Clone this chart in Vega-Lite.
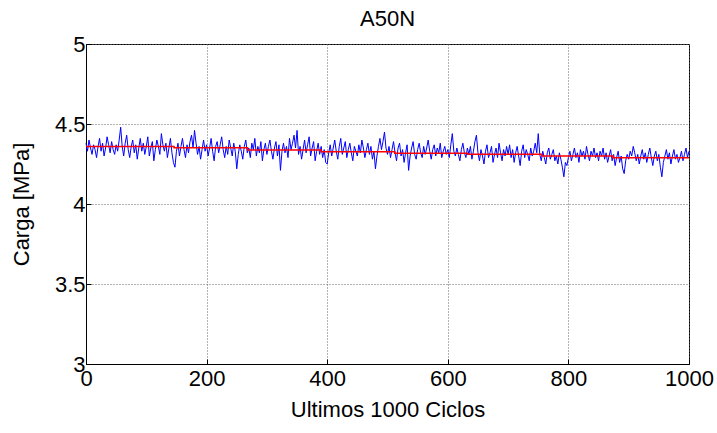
{
"$schema":"https://vega.github.io/schema/vega-lite/v6.json",
"autosize":{"type":"none"},
"padding":{"left":86,"top":44,"right":28,"bottom":69},
"width":603,"height":320,
"background":"white",
"title":{"text":"A50N","fontSize":22,"font":"Liberation Sans","fontWeight":"normal","color":"black","offset":2},
"config":{"view":{"stroke":"black","strokeWidth":1},"axis":{"labelFont":"Liberation Sans","labelFontSize":22,"labelColor":"black","titleFont":"Liberation Sans","titleFontSize":22,"titleFontWeight":"normal","titleColor":"black","domainColor":"black","tickColor":"black","tickSize":-5,"labelFlush":false,"grid":true,"gridColor":"#666666","gridDash":[1,2],"gridWidth":1,"gridOpacity":1}},
"datasets":{
"blue":[
{"x":0,"y":4.38},{"x":2.5,"y":4.33},{"x":5,"y":4.40},{"x":7.5,"y":4.35},{"x":10,"y":4.31},{"x":12.5,"y":4.37},{"x":15,"y":4.34},{"x":17.5,"y":4.29},{"x":20,"y":4.36},{"x":22.5,"y":4.41},{"x":25,"y":4.33},{"x":27.5,"y":4.38},{"x":30,"y":4.30},{"x":32.5,"y":4.35},{"x":35,"y":4.42},{"x":37.5,"y":4.37},{"x":40,"y":4.32},{"x":42.5,"y":4.39},{"x":45,"y":4.34},{"x":47.5,"y":4.31},
{"x":50,"y":4.37},{"x":52.5,"y":4.33},{"x":55,"y":4.40},{"x":57.5,"y":4.48},{"x":60,"y":4.36},{"x":62.5,"y":4.30},{"x":65,"y":4.38},{"x":67.5,"y":4.43},{"x":70,"y":4.34},{"x":72.5,"y":4.29},{"x":75,"y":4.36},{"x":77.5,"y":4.40},{"x":80,"y":4.32},{"x":82.5,"y":4.37},{"x":85,"y":4.28},{"x":87.5,"y":4.35},{"x":90,"y":4.41},{"x":92.5,"y":4.33},{"x":95,"y":4.38},{"x":97.5,"y":4.31},
{"x":100,"y":4.36},{"x":102.5,"y":4.42},{"x":105,"y":4.30},{"x":107.5,"y":4.35},{"x":110,"y":4.39},{"x":112.5,"y":4.27},{"x":115,"y":4.34},{"x":117.5,"y":4.40},{"x":120,"y":4.36},{"x":122.5,"y":4.31},{"x":125,"y":4.44},{"x":127.5,"y":4.37},{"x":130,"y":4.33},{"x":132.5,"y":4.38},{"x":135,"y":4.29},{"x":137.5,"y":4.35},{"x":140,"y":4.41},{"x":142.5,"y":4.32},{"x":145,"y":4.26},{"x":147.5,"y":4.23},
{"x":150,"y":4.33},{"x":152.5,"y":4.38},{"x":155,"y":4.30},{"x":157.5,"y":4.36},{"x":160,"y":4.41},{"x":162.5,"y":4.34},{"x":165,"y":4.29},{"x":167.5,"y":4.37},{"x":170,"y":4.32},{"x":172.5,"y":4.39},{"x":175,"y":4.43},{"x":177.5,"y":4.35},{"x":180,"y":4.46},{"x":182.5,"y":4.38},{"x":185,"y":4.31},{"x":187.5,"y":4.36},{"x":190,"y":4.28},{"x":192.5,"y":4.34},{"x":195,"y":4.40},{"x":197.5,"y":4.33},
{"x":200,"y":4.37},{"x":202.5,"y":4.30},{"x":205,"y":4.35},{"x":207.5,"y":4.41},{"x":210,"y":4.33},{"x":212.5,"y":4.27},{"x":215,"y":4.36},{"x":217.5,"y":4.39},{"x":220,"y":4.32},{"x":222.5,"y":4.37},{"x":225,"y":4.42},{"x":227.5,"y":4.34},{"x":230,"y":4.29},{"x":232.5,"y":4.36},{"x":235,"y":4.31},{"x":237.5,"y":4.40},{"x":240,"y":4.35},{"x":242.5,"y":4.30},{"x":245,"y":4.38},{"x":247.5,"y":4.33},
{"x":250,"y":4.22},{"x":252.5,"y":4.31},{"x":255,"y":4.37},{"x":257.5,"y":4.33},{"x":260,"y":4.28},{"x":262.5,"y":4.36},{"x":265,"y":4.40},{"x":267.5,"y":4.32},{"x":270,"y":4.35},{"x":272.5,"y":4.29},{"x":275,"y":4.38},{"x":277.5,"y":4.34},{"x":280,"y":4.41},{"x":282.5,"y":4.30},{"x":285,"y":4.36},{"x":287.5,"y":4.32},{"x":290,"y":4.39},{"x":292.5,"y":4.27},{"x":295,"y":4.34},{"x":297.5,"y":4.38},
{"x":300,"y":4.31},{"x":302.5,"y":4.36},{"x":305,"y":4.40},{"x":307.5,"y":4.33},{"x":310,"y":4.28},{"x":312.5,"y":4.35},{"x":315,"y":4.39},{"x":317.5,"y":4.30},{"x":320,"y":4.37},{"x":322.5,"y":4.21},{"x":325,"y":4.33},{"x":327.5,"y":4.38},{"x":330,"y":4.32},{"x":332.5,"y":4.36},{"x":335,"y":4.29},{"x":337.5,"y":4.41},{"x":340,"y":4.34},{"x":342.5,"y":4.38},{"x":345,"y":4.43},{"x":347.5,"y":4.35},
{"x":350,"y":4.46},{"x":352.5,"y":4.31},{"x":355,"y":4.36},{"x":357.5,"y":4.28},{"x":360,"y":4.34},{"x":362.5,"y":4.40},{"x":365,"y":4.32},{"x":367.5,"y":4.37},{"x":370,"y":4.42},{"x":372.5,"y":4.30},{"x":375,"y":4.35},{"x":377.5,"y":4.39},{"x":380,"y":4.27},{"x":382.5,"y":4.33},{"x":385,"y":4.38},{"x":387.5,"y":4.31},{"x":390,"y":4.36},{"x":392.5,"y":4.29},{"x":395,"y":4.34},{"x":397.5,"y":4.26},
{"x":400,"y":4.25},{"x":402.5,"y":4.32},{"x":405,"y":4.37},{"x":407.5,"y":4.30},{"x":410,"y":4.35},{"x":412.5,"y":4.40},{"x":415,"y":4.33},{"x":417.5,"y":4.28},{"x":420,"y":4.36},{"x":422.5,"y":4.41},{"x":425,"y":4.31},{"x":427.5,"y":4.35},{"x":430,"y":4.39},{"x":432.5,"y":4.29},{"x":435,"y":4.34},{"x":437.5,"y":4.38},{"x":440,"y":4.32},{"x":442.5,"y":4.27},{"x":445,"y":4.36},{"x":447.5,"y":4.33},
{"x":450,"y":4.30},{"x":452.5,"y":4.37},{"x":455,"y":4.32},{"x":457.5,"y":4.40},{"x":460,"y":4.35},{"x":462.5,"y":4.29},{"x":465,"y":4.34},{"x":467.5,"y":4.38},{"x":470,"y":4.31},{"x":472.5,"y":4.36},{"x":475,"y":4.28},{"x":477.5,"y":4.33},{"x":480,"y":4.22},{"x":482.5,"y":4.30},{"x":485,"y":4.36},{"x":487.5,"y":4.41},{"x":490,"y":4.34},{"x":492.5,"y":4.39},{"x":495,"y":4.45},{"x":497.5,"y":4.35},
{"x":500,"y":4.31},{"x":502.5,"y":4.36},{"x":505,"y":4.29},{"x":507.5,"y":4.34},{"x":510,"y":4.39},{"x":512.5,"y":4.32},{"x":515,"y":4.27},{"x":517.5,"y":4.35},{"x":520,"y":4.38},{"x":522.5,"y":4.30},{"x":525,"y":4.34},{"x":527.5,"y":4.26},{"x":530,"y":4.32},{"x":532.5,"y":4.37},{"x":535,"y":4.21},{"x":537.5,"y":4.30},{"x":540,"y":4.35},{"x":542.5,"y":4.39},{"x":545,"y":4.31},{"x":547.5,"y":4.28},
{"x":550,"y":4.34},{"x":552.5,"y":4.38},{"x":555,"y":4.32},{"x":557.5,"y":4.29},{"x":560,"y":4.36},{"x":562.5,"y":4.31},{"x":565,"y":4.35},{"x":567.5,"y":4.40},{"x":570,"y":4.33},{"x":572.5,"y":4.28},{"x":575,"y":4.34},{"x":577.5,"y":4.37},{"x":580,"y":4.30},{"x":582.5,"y":4.35},{"x":585,"y":4.32},{"x":587.5,"y":4.38},{"x":590,"y":4.29},{"x":592.5,"y":4.33},{"x":595,"y":4.36},{"x":597.5,"y":4.31},
{"x":600,"y":4.34},{"x":602.5,"y":4.29},{"x":605,"y":4.37},{"x":607.5,"y":4.44},{"x":610,"y":4.33},{"x":612.5,"y":4.30},{"x":615,"y":4.35},{"x":617.5,"y":4.31},{"x":620,"y":4.27},{"x":622.5,"y":4.34},{"x":625,"y":4.38},{"x":627.5,"y":4.32},{"x":630,"y":4.29},{"x":632.5,"y":4.35},{"x":635,"y":4.31},{"x":637.5,"y":4.36},{"x":640,"y":4.28},{"x":642.5,"y":4.33},{"x":645,"y":4.39},{"x":647.5,"y":4.43},
{"x":650,"y":4.32},{"x":652.5,"y":4.27},{"x":655,"y":4.34},{"x":657.5,"y":4.30},{"x":660,"y":4.25},{"x":662.5,"y":4.33},{"x":665,"y":4.37},{"x":667.5,"y":4.29},{"x":670,"y":4.32},{"x":672.5,"y":4.36},{"x":675,"y":4.26},{"x":677.5,"y":4.31},{"x":680,"y":4.35},{"x":682.5,"y":4.29},{"x":685,"y":4.38},{"x":687.5,"y":4.32},{"x":690,"y":4.27},{"x":692.5,"y":4.34},{"x":695,"y":4.30},{"x":697.5,"y":4.36},
{"x":700,"y":4.31},{"x":702.5,"y":4.37},{"x":705,"y":4.29},{"x":707.5,"y":4.34},{"x":710,"y":4.26},{"x":712.5,"y":4.32},{"x":715,"y":4.36},{"x":717.5,"y":4.30},{"x":720,"y":4.24},{"x":722.5,"y":4.33},{"x":725,"y":4.37},{"x":727.5,"y":4.29},{"x":730,"y":4.34},{"x":732.5,"y":4.31},{"x":735,"y":4.27},{"x":737.5,"y":4.35},{"x":740,"y":4.30},{"x":742.5,"y":4.33},{"x":745,"y":4.38},{"x":747.5,"y":4.32},
{"x":750,"y":4.44},{"x":752.5,"y":4.31},{"x":755,"y":4.27},{"x":757.5,"y":4.33},{"x":760,"y":4.29},{"x":762.5,"y":4.25},{"x":765,"y":4.32},{"x":767.5,"y":4.35},{"x":770,"y":4.28},{"x":772.5,"y":4.31},{"x":775,"y":4.34},{"x":777.5,"y":4.27},{"x":780,"y":4.30},{"x":782.5,"y":4.25},{"x":785,"y":4.32},{"x":787.5,"y":4.28},{"x":790,"y":4.23},{"x":792.5,"y":4.17},{"x":795,"y":4.26},{"x":797.5,"y":4.24},
{"x":800,"y":4.29},{"x":802.5,"y":4.33},{"x":805,"y":4.27},{"x":807.5,"y":4.31},{"x":810,"y":4.35},{"x":812.5,"y":4.29},{"x":815,"y":4.32},{"x":817.5,"y":4.26},{"x":820,"y":4.34},{"x":822.5,"y":4.30},{"x":825,"y":4.33},{"x":827.5,"y":4.28},{"x":830,"y":4.36},{"x":832.5,"y":4.31},{"x":835,"y":4.27},{"x":837.5,"y":4.33},{"x":840,"y":4.30},{"x":842.5,"y":4.35},{"x":845,"y":4.29},{"x":847.5,"y":4.32},
{"x":850,"y":4.27},{"x":852.5,"y":4.33},{"x":855,"y":4.30},{"x":857.5,"y":4.35},{"x":860,"y":4.28},{"x":862.5,"y":4.32},{"x":865,"y":4.26},{"x":867.5,"y":4.30},{"x":870,"y":4.34},{"x":872.5,"y":4.27},{"x":875,"y":4.31},{"x":877.5,"y":4.24},{"x":880,"y":4.29},{"x":882.5,"y":4.33},{"x":885,"y":4.26},{"x":887.5,"y":4.30},{"x":890,"y":4.22},{"x":892.5,"y":4.19},{"x":895,"y":4.27},{"x":897.5,"y":4.31},
{"x":900,"y":4.28},{"x":902.5,"y":4.33},{"x":905,"y":4.30},{"x":907.5,"y":4.36},{"x":910,"y":4.32},{"x":912.5,"y":4.27},{"x":915,"y":4.31},{"x":917.5,"y":4.25},{"x":920,"y":4.30},{"x":922.5,"y":4.34},{"x":925,"y":4.28},{"x":927.5,"y":4.32},{"x":930,"y":4.26},{"x":932.5,"y":4.31},{"x":935,"y":4.35},{"x":937.5,"y":4.29},{"x":940,"y":4.24},{"x":942.5,"y":4.30},{"x":945,"y":4.33},{"x":947.5,"y":4.27},
{"x":950,"y":4.31},{"x":952.5,"y":4.23},{"x":955,"y":4.17},{"x":957.5,"y":4.26},{"x":960,"y":4.30},{"x":962.5,"y":4.34},{"x":965,"y":4.28},{"x":967.5,"y":4.32},{"x":970,"y":4.25},{"x":972.5,"y":4.30},{"x":975,"y":4.34},{"x":977.5,"y":4.28},{"x":980,"y":4.31},{"x":982.5,"y":4.26},{"x":985,"y":4.29},{"x":987.5,"y":4.33},{"x":990,"y":4.27},{"x":992.5,"y":4.31},{"x":995,"y":4.35},{"x":997.5,"y":4.29},{"x":1000,"y":4.33}
],
"trend":[
{"x":0,"y":4.360},{"x":146,"y":4.351},{"x":268,"y":4.338},{"x":390,"y":4.327},{"x":512,"y":4.317},{"x":633,"y":4.311},{"x":756,"y":4.300},{"x":874,"y":4.289},{"x":1000,"y":4.289}
]
},
"layer":[
{"data":{"name":"blue"},"mark":{"type":"line","color":"#0000FF","strokeWidth":1},
"encoding":{
"x":{"field":"x","type":"quantitative","scale":{"domain":[0,1000],"nice":false},"axis":{"values":[0,200,400,600,800,1000],"title":"Ultimos 1000 Ciclos","format":"d","labelPadding":9,"titlePadding":10}},
"y":{"field":"y","type":"quantitative","scale":{"domain":[3,5],"nice":false,"zero":false},"axis":{"values":[3,3.5,4,4.5,5],"title":"Carga [MPa]","format":"~g","labelPadding":6,"titlePadding":21}}}},
{"data":{"name":"trend"},"mark":{"type":"line","color":"#FF0000","strokeWidth":1.5,"interpolate":"step-after"},
"encoding":{"x":{"field":"x","type":"quantitative"},"y":{"field":"y","type":"quantitative"}}}
]
}
